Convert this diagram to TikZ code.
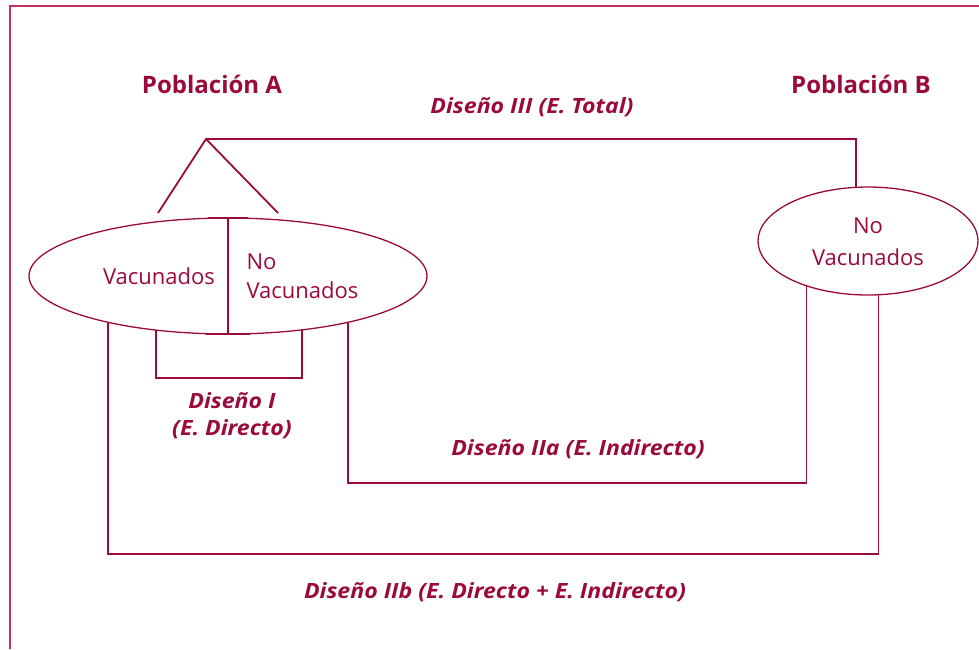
\documentclass[tikz,border=0pt]{standalone}
\usepackage{fontspec}
\setmainfont{Open Sans}
\newfontfamily\anchafont{Open Sans}[FakeStretch=1.1]
\usetikzlibrary{shapes.geometric}
\definecolor{vino}{RGB}{155,10,60}
\definecolor{marco}{RGB}{195,50,95}
\begin{document}
\begin{tikzpicture}[x=1pt,y=-1pt,
    pob/.style={shape=ellipse,draw=vino,line width=1.3pt,inner sep=0pt,outer sep=0pt},
    rama/.style={draw=vino,line width=1.8pt},
    titulo/.style={text=vino,font=\bfseries\fontsize{24}{28}\selectfont,anchor=base},
    diseno/.style={text=vino,font=\anchafont\bfseries\itshape\fontsize{21}{27}\selectfont,anchor=base},
    grupo/.style={text=vino,font=\fontsize{22}{29}\selectfont,anchor=base}]
    \useasboundingbox (0,0) rectangle (979,649);
    \draw[marco,line width=1.3pt] (10,649) -- (10,6) -- (979,6);

    \node[pob,minimum width=398pt,minimum height=116pt] (A) at (228,276) {};
    \node[pob,minimum width=220pt,minimum height=108pt] (B) at (868,241) {};

    \node[grupo] (vacA) at (159,284) {Vacunados};
    \node[grupo,align=left,anchor=base west] (novacA) at (243,298) {No\\Vacunados};
    \node[grupo,align=center,font=\fontsize{22}{32}\selectfont] (novacB) at (868,265) {No\\Vacunados};

    \node[titulo] (popA) at (212,93) {Población A};
    \node[titulo] (popB) at (861,93) {Población B};
    \node[diseno] (d3) at (532,113) {Diseño III (E. Total)};
    \node[diseno,align=center] (d1) at (232,435) {Diseño I\\(E. Directo)};
    \node[diseno] (d2a) at (578,455) {Diseño IIa (E. Indirecto)};
    \node[diseno] (d2b) at (495,598) {Diseño IIb (E. Directo + E. Indirecto)};

    \coordinate (cima) at (206,139);
    \coordinate (piei) at (158,213);
    \coordinate (pied) at (278,213);

    \path [rama] (piei) -- (cima) -- (pied);
    \path [rama] (cima) -| (B.103.6);
    \path [rama] (A.north) -- (A.south);
    \path [rama,line width=2.6pt] ([xshift=-20pt]A.north) -- ([xshift=20pt]A.north);
    \path [rama,line width=2.6pt] ([xshift=-22pt]A.south) -- ([xshift=22pt]A.south);

    \path [rama] (A.217.8) -- ++(0,47.7) -| (A.324.4);
    \path [rama] (A.339.7) -- ++(0,160.4) -| (B.216.4);
    \path [rama] (A.201.3) -- ++(0,231.5) -| (B.281.6);

\end{tikzpicture}
\end{document}
